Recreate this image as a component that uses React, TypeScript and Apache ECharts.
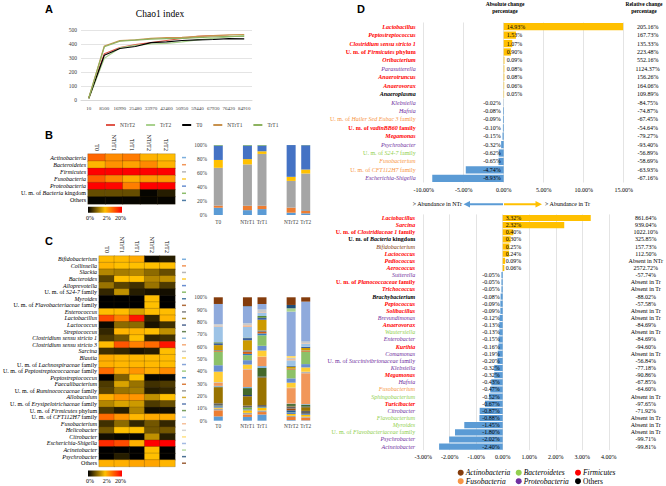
import React, { useEffect, useRef } from 'react';
import * as echarts from 'echarts';

const SERIF = 'Liberation Serif, Times New Roman, serif';
const SANS = 'Liberation Sans, Arial, sans-serif';

// ---------- Panel A: Chao1 rarefaction ----------
const depthLabels = ['10', '8500', '16990', '25480', '33970', '42460', '50950', '59440', '67930', '76420', '84910'];
const lineNames = ['NTrT2', 'TrT2', 'T0', 'NTrT1', 'TrT1'];
const lineColors = ['#E0574A', '#A9D18E', '#000000', '#C8924E', '#8DB360'];
const chaoNTrT2 = [12, 330, 375, 395, 410, 425, 440, 455, 460, 455, null];
const chaoTrT2 = [10, 298, 372, 390, 400, 405, 415, 430, 440, 450, 460];
const chaoT0 = [12, 320, 368, 382, 410, 415, 425, 430, 432, 438, 436];
const chaoNTrT1 = [14, 386, 424, 430, 440, 445, 448, 455, 460, 465, 468];
const chaoTrT1 = [13, 380, 420, 428, 435, 438, 440, 445, 450, 455, 455];
const chaoSeries = [chaoNTrT2, chaoTrT2, chaoT0, chaoNTrT1, chaoTrT1];

// ---------- Panels B & C ----------
const samples = ['T0', 'NTrT1', 'TrT1', 'NTrT2', 'TrT2'];
const barCats = ['T0', 'gap1', 'NTrT1', 'TrT1', 'gap2', 'NTrT2', 'TrT2'];
const barPos = [0, 2, 3, 5, 6];

const phyla = ['Actinobacteria', 'Bacteroidetes', 'Firmicutes', 'Fusobacteria', 'Proteobacteria', 'U. m. of Bacteria kingdom', 'Others'];
const phylumColors = ['#5B9BD5', '#ED7D31', '#A5A5A5', '#FFC000', '#4472C4', '#70AD47', '#255E91'];
// relative abundance (%) per phylum, per sample T0, NTrT1, TrT1, NTrT2, TrT2
const phylumAbund = [
  [10.5, 7.0, 8.5, 3.3, 2.4],
  [3.0, 6.3, 4.8, 7.2, 3.3],
  [54.5, 59.6, 74.7, 38.0, 53.8],
  [11.3, 7.6, 3.8, 5.8, 5.7],
  [20.7, 19.5, 8.2, 45.2, 34.8],
  [0.8, 0.8, 0.8, 0.05, 0.3],
  [0.05, 0.05, 0.05, 0.05, 0.05],
];

const genera = ['Bifidobacterium', 'Collinsella', 'Slackia', 'Bacteroides', 'Alloprevotella', 'U. m. of S24-7 family', 'Myroides',
  'U. m. of Flavobacteriaceae family', 'Enterococcus', 'Lactobacillus', 'Lactococcus', 'Streptococcus', 'Clostridium sensu stricto 1',
  'Clostridium sensu stricto 3', 'Sarcina', 'Blautia', 'U. m. of Lachnospiraceae family', 'U. m. of Peptostreptococcaceae family',
  'Peptostreptococcus', 'Faecalibacterium', 'U. m. of Ruminococcaceae family', 'Allobaculum', 'U. m. of Erysipelotrichaceae family',
  'U. m. of Firmicutes phylum', 'U. m. of CFT112H7 family', 'Fusobacterium', 'Helicobacter', 'Citrobacter', 'Escherichia-Shigella',
  'Acinetobacter', 'Psychrobacter', 'Others'];
const genusColors = ['#5B9BD5', '#ED7D31', '#A5A5A5', '#FFC000', '#4472C4', '#70AD47', '#255E91', '#9E480E', '#636363', '#997300',
  '#264478', '#43682B', '#7CAFDD', '#F1975A', '#B7B7B7', '#FFCD33', '#698ED0', '#8CC168', '#327DC2', '#D26012', '#848484', '#CC9A00',
  '#3A5FA0', '#5A8A39', '#9DC3E6', '#F4B183', '#C9C9C9', '#FFD966', '#8FAADC', '#A9D18E', '#1F4E79', '#843C0C'];
// heat map values (%) per genus, per sample
const genusHeat = [
  [2.5, 2.5, 4, 0.1, 0.3], [3, 2, 2, 2, 2.2], [1.4, 1.3, 1.4, 1.1, 0.8], [0.7, 2, 2, 1.4, 1.5], [1.2, 0.7, 0.5, 1.2, 0.6],
  [0.4, 1.5, 0.3, 0.2, 0.15], [0, 0, 0, 2.2, 0], [0, 0, 0, 2, 0], [2.3, 2.3, 1.7, 2.2, 2.4], [13, 8, 18, 0.4, 3],
  [0.1, 1.1, 1.1, 0.2, 0.5], [0.4, 3, 3, 2.2, 1.5], [0.6, 0.9, 2, 0.4, 0.5], [2.5, 12, 8, 10, 18], [0.5, 0.4, 0.2, 0.3, 2.2],
  [4, 3, 2.8, 2.5, 2.5], [3.5, 2.8, 2.8, 2.7, 2.4], [10, 4, 6, 4, 7], [0, 1, 2, 0.05, 0.05], [0.6, 1.7, 1.2, 0.5, 0.6],
  [0.7, 1.2, 1.3, 0.3, 0.4], [3.5, 6, 6, 1.5, 2], [1.4, 1.7, 1.6, 0.6, 0.8], [0.6, 0.3, 1.4, 0.15, 0.15], [10, 6, 2.8, 4, 3.8],
  [0.5, 1.1, 0.4, 0.9, 0.4], [0.9, 2, 2, 0.9, 0.9], [0.15, 0.05, 0.05, 1.5, 0.3], [16, 13, 3.5, 25, 22], [0, 0, 0, 2.2, 0],
  [0, 0.3, 0, 2.1, 0], [3.5, 3.5, 4.5, 4.5, 3],
];
// stacked bar values (%) per genus, per sample
const genusBars = [
  [3.5, 3.0, 5.0, 0.5, 0.3], [4.9, 2.0, 2.0, 2.5, 2.2], [1.4, 1.3, 1.3, 1.1, 0.8], [0.8, 2.0, 2.0, 1.4, 1.5], [1.1, 0.7, 0.5, 1.2, 0.6],
  [0.5, 1.5, 0.4, 0.2, 0.15], [0, 0, 0, 1.5, 0], [0, 0, 0, 1.5, 0], [1.9, 1.5, 1.5, 1.5, 2.4], [13, 7.5, 22.4, 0.4, 3],
  [0.1, 1.0, 0.6, 0.2, 0.5], [0.4, 5.5, 7, 1.5, 1.5], [0.6, 0.9, 1.5, 0.4, 0.5], [2.5, 14, 7.5, 12.5, 25], [0.5, 0.4, 0.2, 0.4, 1.2],
  [8.5, 3.5, 4.9, 4, 3.5], [5.2, 3.5, 3.8, 3.5, 2.7], [11, 4, 8.5, 7, 10], [0, 1, 1.5, 0.05, 0.05], [0.6, 1.7, 1.2, 0.5, 0.6],
  [0.7, 1.2, 1.3, 0.3, 0.4], [4, 8, 8.6, 1.5, 2], [1.5, 1.7, 1.6, 0.6, 0.8], [0.8, 0.4, 1.4, 0.15, 0.15], [12.8, 8.6, 2.8, 4.5, 2.5],
  [0.6, 1.2, 0.4, 1, 0.4], [1, 1.5, 2, 1, 1], [0.1, 0.05, 0.05, 1.5, 0.3], [16.5, 13.5, 4.5, 36, 32.4], [0, 0, 0, 2.7, 0],
  [0, 0.3, 0, 2.7, 0], [5.4, 7, 5.4, 6.2, 3.5],
];
const heatTicks = ['0%', '2%', '20%'];

// ---------- Panel D ----------
const phylumCode: Record<string, string> = { A: '#843C0C', B: '#92D050', F: '#FF0000', Fu: '#F79646', P: '#7030A0', O: '#000000' };
const legendPhyla = ['Actinobacteria', 'Bacteroidetes', 'Firmicutes', 'Fusobacteria', 'Proteobacteria', 'Others'];
const legendCodes = ['A', 'B', 'F', 'Fu', 'P', 'O'];

const topGenera = ['Lactobacillus', 'Peptostreptococcus', 'Clostridium sensu stricto 1', 'U. m. of Firmicutes phylum', 'Oribacterium',
  'Parasutterella', 'Anaerotruncus', 'Anaerovorax', 'Anaeroplasma', 'Klebsiella', 'Hafnia', 'U. m. of Hailer Sed Eubac 3 family',
  'U. m. of vadinBB60 family', 'Megamonas', 'Psychrobacter', 'U. m. of S24-7 family', 'Fusobacterium', 'U. m. of CFT112H7 family',
  'Escherichia-Shigella'];
const topPhyla = ['F', 'F', 'F', 'F', 'F', 'P', 'F', 'F', 'O', 'P', 'P', 'Fu', 'F', 'F', 'P', 'B', 'Fu', 'Fu', 'P'];
const topAbs = [14.93, 1.53, 1.07, 0.90, 0.09, 0.08, 0.08, 0.06, 0.05, -0.02, -0.08, -0.09, -0.10, -0.15, -0.32, -0.62, -0.65, -4.74, -8.93];
const topRel = ['205.16%', '167.73%', '135.33%', '223.48%', '552.16%', '1124.37%', '156.26%', '164.06%', '109.89%', '-84.75%', '-74.87%',
  '-67.45%', '-54.64%', '-79.27%', '-93.40%', '-56.89%', '-58.69%', '-63.93%', '-67.16%'];

const botGenera = ['Lactobacillus', 'Sarcina', 'U. m. of Clostridiaceae 1 family', 'U. m. of Bacteria kingdom', 'Bifidobacterium',
  'Lactococcus', 'Pediococcus', 'Aerococcus', 'Sutterella', 'U. m. of Planococcaceae family', 'Trichococcus', 'Brachybacterium',
  'Peptococcus', 'Solibacillus', 'Brevundimonas', 'Anaerovorax', 'Wautersiella', 'Enterobacter', 'Kurthia', 'Comamonas',
  'U. m. of Succinivibrionaceae family', 'Klebsiella', 'Megamonas', 'Hafnia', 'Fusobacterium', 'Sphingobacterium', 'Turicibacter',
  'Citrobacter', 'Flavobacterium', 'Myroides', 'U. m. of Flavobacteriaceae family', 'Psychrobacter', 'Acinetobacter'];
const botPhyla = ['F', 'F', 'F', 'O', 'A', 'F', 'F', 'F', 'P', 'F', 'F', 'O', 'F', 'F', 'P', 'F', 'B', 'P', 'F', 'P', 'P', 'P', 'F', 'P',
  'Fu', 'B', 'F', 'P', 'B', 'B', 'B', 'P', 'P'];
const botAbs = [3.32, 2.32, 0.40, 0.30, 0.25, 0.24, 0.09, 0.06, -0.05, -0.05, -0.05, -0.08, -0.09, -0.09, -0.12, -0.13, -0.13, -0.15,
  -0.16, -0.19, -0.20, -0.32, -0.32, -0.43, -0.47, -0.52, -0.67, -0.87, -0.88, -1.45, -1.80, -2.02, -2.40];
const botRel = ['861.64%', '939.04%', '1022.10%', '325.85%', '157.73%', '112.50%', 'Absent in NTr', '2572.72%', '-57.74%', 'Absent in Tr',
  'Absent in Tr', '-88.02%', '-57.58%', 'Absent in Tr', 'Absent in Tr', '-84.69%', 'Absent in Tr', '-84.69%', '-94.60%', 'Absent in Tr',
  '-56.84%', '-77.18%', '-90.86%', '-67.85%', '-64.60%', 'Absent in Tr', '-97.65%', '-71.92%', 'Absent in Tr', 'Absent in Tr',
  'Absent in Tr', '-99.71%', '-99.81%'];

// ---------- helpers ----------
const heatLevel = (v: number) => (v <= 2 ? v / 4 : Math.min(1, 0.5 + (v - 2) / 36));

function splitName(name: string): [string, string, string] | null {
  if (!name.startsWith('U. m. of ')) return null;
  const rest = name.slice(9);
  const k = rest.lastIndexOf(' ');
  return ['U. m. of ', rest.slice(0, k), rest.slice(k)];
}
function heatLabel(name: string) {
  if (name === 'Others') return `{n|${name}}`;
  const s = splitName(name);
  if (!s) return `{i|${name}}`;
  return `{n|${s[0]}}{i|${s[1]}}{n|${s[2]}}`;
}
function dLabel(name: string, code: string) {
  const s = splitName(name);
  if (!s) return `{${code}i|${name}}`;
  return `{${code}n|${s[0]}}{${code}i|${s[1]}}{${code}n|${s[2]}}`;
}
const dRich: Record<string, any> = {};
Object.keys(phylumCode).forEach((c) => {
  const bold = c === 'F' || c === 'O' ? 'bold' : 'normal';
  dRich[c + 'i'] = { color: phylumCode[c], fontStyle: 'italic', fontWeight: bold, fontSize: 6, fontFamily: SERIF };
  dRich[c + 'n'] = { color: phylumCode[c], fontStyle: 'normal', fontWeight: bold, fontSize: 6, fontFamily: SERIF };
});
const heatRich = {
  i: { fontStyle: 'italic', fontSize: 6, fontFamily: SERIF, color: '#000' },
  n: { fontStyle: 'normal', fontSize: 6, fontFamily: SERIF, color: '#000' },
};

const tick = { fontSize: 6, fontFamily: SERIF, color: '#404040' };
const hidden = { axisLine: { show: false }, axisTick: { show: false }, splitLine: { show: false } };

function buildOption() {
  const grid: any[] = [];
  const xAxis: any[] = [];
  const yAxis: any[] = [];
  const series: any[] = [];

  // A
  grid.push({ left: 81, top: 30, width: 171, height: 70 });
  xAxis.push({ gridIndex: 0, type: 'category', data: depthLabels, boundaryGap: true, axisLine: { lineStyle: { color: '#D9D9D9' } },
    axisTick: { show: false }, axisLabel: { ...tick, fontSize: 5, interval: 0, margin: 6 } });
  yAxis.push({ gridIndex: 0, type: 'value', min: 0, max: 500, interval: 100, axisLine: { show: false }, axisTick: { show: false },
    axisLabel: { ...tick, fontSize: 5.5, margin: 4 }, splitLine: { lineStyle: { color: '#D9D9D9', width: 0.7 } } });
  lineNames.forEach((n, i) => series.push({ type: 'line', name: n, xAxisIndex: 0, yAxisIndex: 0, data: chaoSeries[i], symbol: 'none',
    lineStyle: { width: 1.2, color: lineColors[i] }, itemStyle: { color: lineColors[i] } }));

  // B heat
  grid.push({ left: 88, top: 154, width: 87, height: 50 });
  xAxis.push({ gridIndex: 1, type: 'category', data: samples, position: 'top', ...hidden,
    axisLabel: { ...tick, color: '#000', rotate: 90, margin: 3, interval: 0 } });
  yAxis.push({ gridIndex: 1, type: 'category', data: phyla, inverse: true, ...hidden,
    axisLabel: { interval: 0, margin: 2, formatter: (v: string) => heatLabel(v), rich: heatRich } });
  const heatBIdx = series.length;
  const heatBData: any[] = [];
  phylumAbund.forEach((row, r) => row.forEach((v, c) => heatBData.push([c, r, heatLevel(v)])));
  series.push({ type: 'heatmap', xAxisIndex: 1, yAxisIndex: 1, data: heatBData,
    itemStyle: { borderColor: 'rgba(60,40,0,0.45)', borderWidth: 0.5 } });

  // B markers
  grid.push({ left: 181, top: 154, width: 6, height: 50 });
  xAxis.push({ gridIndex: 2, type: 'category', data: ['m'], ...hidden, axisLabel: { show: false } });
  yAxis.push({ gridIndex: 2, type: 'category', data: phyla, inverse: true, ...hidden, axisLabel: { show: false } });
  series.push({ type: 'scatter', xAxisIndex: 2, yAxisIndex: 2, symbol: 'rect', symbolSize: [4, 1.5],
    data: phyla.map((p, i) => ({ value: [0, i], itemStyle: { color: phylumColors[i] } })) });

  // B bars
  const barLabel = { ...tick, fontSize: 5.3, interval: 0, formatter: (v: string) => (v.startsWith('gap') ? '' : v) };
  grid.push({ left: 211, top: 145, width: 102, height: 70 });
  xAxis.push({ gridIndex: 3, type: 'category', data: barCats, ...hidden, axisLabel: { ...barLabel, margin: 4 } });
  yAxis.push({ gridIndex: 3, type: 'value', min: 0, max: 100, interval: 20, ...hidden,
    axisLabel: { ...tick, fontSize: 5.5, margin: 4, formatter: '{value}%' } });
  const bTotals = samples.map((_, s) => phylumAbund.reduce((a, row) => a + row[s], 0));
  phyla.forEach((p, i) => {
    const d: any[] = barCats.map(() => '-');
    barPos.forEach((pos, s) => { d[pos] = (phylumAbund[i][s] / bTotals[s]) * 100; });
    series.push({ type: 'bar', name: p, stack: 'B', xAxisIndex: 3, yAxisIndex: 3, data: d, barWidth: 9, itemStyle: { color: phylumColors[i] } });
  });

  // C heat
  grid.push({ left: 88, top: 256, width: 87, height: 210.5 });
  xAxis.push({ gridIndex: 4, type: 'category', data: samples, position: 'top', ...hidden,
    axisLabel: { ...tick, color: '#000', rotate: 90, margin: 3, interval: 0 } });
  yAxis.push({ gridIndex: 4, type: 'category', data: genera, inverse: true, ...hidden,
    axisLabel: { interval: 0, margin: 2, formatter: (v: string) => heatLabel(v), rich: heatRich } });
  const heatCIdx = series.length;
  const heatCData: any[] = [];
  genusHeat.forEach((row, r) => row.forEach((v, c) => heatCData.push([c, r, heatLevel(v)])));
  series.push({ type: 'heatmap', xAxisIndex: 4, yAxisIndex: 4, data: heatCData,
    itemStyle: { borderColor: 'rgba(60,40,0,0.45)', borderWidth: 0.5 } });

  // C markers
  grid.push({ left: 181, top: 256, width: 6, height: 210.5 });
  xAxis.push({ gridIndex: 5, type: 'category', data: ['m'], ...hidden, axisLabel: { show: false } });
  yAxis.push({ gridIndex: 5, type: 'category', data: genera, inverse: true, ...hidden, axisLabel: { show: false } });
  series.push({ type: 'scatter', xAxisIndex: 5, yAxisIndex: 5, symbol: 'rect', symbolSize: [4, 1.5],
    data: genera.map((g, i) => ({ value: [0, i], itemStyle: { color: genusColors[i] } })) });

  // C bars
  grid.push({ left: 211, top: 297.3, width: 102, height: 123.4 });
  xAxis.push({ gridIndex: 6, type: 'category', data: barCats, ...hidden, axisLabel: { ...barLabel, margin: 3 } });
  yAxis.push({ gridIndex: 6, type: 'value', min: 0, max: 100, interval: 10, ...hidden,
    axisLabel: { ...tick, fontSize: 5.5, margin: 4, formatter: '{value}%' } });
  const cTotals = samples.map((_, s) => genusBars.reduce((a, row) => a + row[s], 0));
  genera.forEach((g, i) => {
    const d: any[] = barCats.map(() => '-');
    barPos.forEach((pos, s) => { d[pos] = (genusBars[i][s] / cTotals[s]) * 100; });
    series.push({ type: 'bar', name: g, stack: 'C', xAxisIndex: 6, yAxisIndex: 6, data: d, barWidth: 9, itemStyle: { color: genusColors[i] } });
  });

  // D top
  const dBar = (vals: number[], xi: number, yi: number) => ({
    type: 'bar', xAxisIndex: xi, yAxisIndex: yi, barCategoryGap: '14%',
    data: vals.map((v) => ({ value: v, itemStyle: { color: v >= 0 ? '#FFC000' : '#5B9BD5' },
      label: { position: v >= 0 ? 'insideLeft' : 'insideRight' } })),
    label: { show: true, distance: 3, fontSize: 6, fontFamily: SERIF, color: '#000', formatter: (p: any) => `${p.value.toFixed(2)}%` },
  });
  grid.push({ left: 423.7, top: 22.5, width: 200, height: 160 });
  xAxis.push({ gridIndex: 7, type: 'value', min: -10, max: 15, interval: 5, axisLine: { show: false }, axisTick: { show: false },
    axisLabel: { ...tick, color: '#000', margin: 4, formatter: (v: number) => `${v.toFixed(2)}%` },
    splitLine: { lineStyle: { color: '#D9D9D9', width: 0.7 } } });
  yAxis.push({ gridIndex: 7, type: 'category', data: topGenera, inverse: true, axisLine: { show: false, onZero: false }, axisTick: { show: false },
    axisLabel: { interval: 0, margin: 8, formatter: (v: string, i: number) => dLabel(v, topPhyla[i]), rich: dRich } });
  yAxis.push({ gridIndex: 7, type: 'category', data: topGenera, inverse: true, position: 'right', axisLine: { show: false, onZero: false },
    axisTick: { show: false }, axisLabel: { interval: 0, margin: 24, align: 'center', fontSize: 6, fontFamily: SERIF, color: '#000',
      formatter: (v: string, i: number) => topRel[i] } });
  series.push(dBar(topAbs, 7, 7));

  // D bottom
  grid.push({ left: 423.2, top: 214.4, width: 187.8, height: 235.8 });
  xAxis.push({ gridIndex: 8, type: 'value', min: -3, max: 4, interval: 1, axisLine: { show: false }, axisTick: { show: false },
    axisLabel: { ...tick, color: '#000', margin: 4, formatter: (v: number) => `${v.toFixed(2)}%` },
    splitLine: { lineStyle: { color: '#D9D9D9', width: 0.7 } } });
  yAxis.push({ gridIndex: 8, type: 'category', data: botGenera, inverse: true, axisLine: { show: false, onZero: false }, axisTick: { show: false },
    axisLabel: { interval: 0, margin: 8, formatter: (v: string, i: number) => dLabel(v, botPhyla[i]), rich: dRich } });
  yAxis.push({ gridIndex: 8, type: 'category', data: botGenera, inverse: true, position: 'right', axisLine: { show: false, onZero: false },
    axisTick: { show: false }, axisLabel: { interval: 0, margin: 37, align: 'center', fontSize: 6, fontFamily: SERIF, color: '#000',
      formatter: (v: string, i: number) => botRel[i] } });
  series.push(dBar(botAbs, 8, 9));

  // graphics
  const gradient = () => new echarts.graphic.LinearGradient(0, 0, 1, 0, [
    { offset: 0, color: '#000000' }, { offset: 0.5, color: '#FFC000' }, { offset: 1, color: '#FF0000' }]);
  const heatTickX = [90, 106.7, 120.5];
  const txt = (x: number, y: number, text: string, extra: any = {}) => ({ type: 'text', x, y,
    style: { text, fontSize: 6, fontFamily: SERIF, fill: '#000', align: 'center', verticalAlign: 'middle', ...extra } });
  const graphic: any[] = [
    txt(160, 14, 'Chao1 index', { fontSize: 9.5 }),
    txt(49, 9, 'A', { fontSize: 11, fontWeight: 'bold', fontFamily: SANS }),
    txt(49, 135, 'B', { fontSize: 11, fontWeight: 'bold', fontFamily: SANS }),
    txt(49, 241, 'C', { fontSize: 11, fontWeight: 'bold', fontFamily: SANS }),
    txt(361, 9, 'D', { fontSize: 11, fontWeight: 'bold', fontFamily: SANS }),
    { type: 'rect', shape: { x: 88, y: 206.7, width: 34, height: 6 }, style: { fill: gradient() } },
    { type: 'rect', shape: { x: 88, y: 470.5, width: 34, height: 6 }, style: { fill: gradient() } },
    txt(505, 3.5, 'Absolute change', { fontWeight: 'bold', fontSize: 5.5 }),
    txt(505, 10.5, 'percentage', { fontWeight: 'bold', fontSize: 5.5 }),
    txt(644, 3.5, 'Relative change', { fontWeight: 'bold', fontSize: 5.5 }),
    txt(644, 10.5, 'percentage', { fontWeight: 'bold', fontSize: 5.5 }),
    txt(462, 204.3, '> Abundance in NTr', { align: 'right' }),
    txt(545, 204.3, '> Abundance in Tr', { align: 'left' }),
    { type: 'line', shape: { x1: 468, y1: 204.3, x2: 503, y2: 204.3 }, style: { stroke: '#5B9BD5', lineWidth: 2 } },
    { type: 'polygon', shape: { points: [[463.5, 204.3], [470, 201], [470, 207.6]] }, style: { fill: '#5B9BD5' } },
    { type: 'line', shape: { x1: 504, y1: 204.3, x2: 537, y2: 204.3 }, style: { stroke: '#FFC000', lineWidth: 2 } },
    { type: 'polygon', shape: { points: [[542, 204.3], [535.5, 201], [535.5, 207.6]] }, style: { fill: '#FFC000' } },
  ];
  heatTicks.forEach((t, i) => {
    graphic.push(txt(heatTickX[i], 217.7, t));
    graphic.push(txt(heatTickX[i], 481, t));
  });
  const legX = [460.7, 518.7, 578];
  const legY = [472.7, 481.2];
  legendPhyla.forEach((p, i) => {
    const x = legX[i % 3];
    const y = legY[Math.floor(i / 3)];
    graphic.push({ type: 'circle', shape: { cx: x, cy: y, r: 3 }, style: { fill: phylumCode[legendCodes[i]] } });
    graphic.push(txt(x + 5, y, p, { align: 'left', fontSize: 7.5, fontStyle: p === 'Others' ? 'normal' : 'italic' }));
  });

  return {
    animation: false,
    backgroundColor: '#ffffff',
    textStyle: { fontFamily: SERIF },
    legend: { data: lineNames, left: 100, top: 117, itemWidth: 9, itemHeight: 2, itemGap: 10,
      textStyle: { fontSize: 5.5, fontFamily: SERIF, color: '#404040' } },
    visualMap: [{ type: 'continuous', show: false, min: 0, max: 1, dimension: 2, seriesIndex: [heatBIdx, heatCIdx],
      inRange: { color: ['#000000', '#FFC000', '#FF0000'] } }],
    grid, xAxis, yAxis, series, graphic,
  };
}

export default function App() {
  const ref = useRef<HTMLDivElement>(null);
  useEffect(() => {
    const chart = echarts.init(ref.current!, undefined, { renderer: 'svg' });
    chart.setOption(buildOption() as any);
    return () => chart.dispose();
  }, []);
  return <div ref={ref} style={{ position: 'absolute', left: 0, top: 0, width: 666, height: 486 }} />;
}
